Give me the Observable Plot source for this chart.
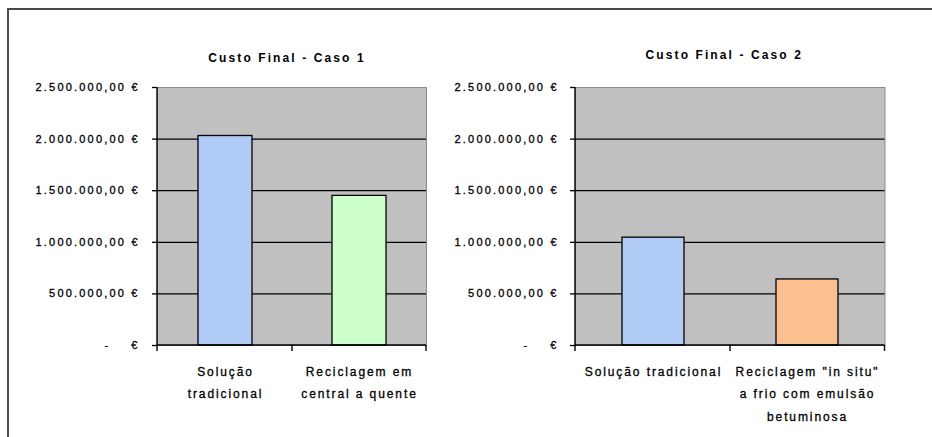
<!DOCTYPE html>
<html>
<head>
<meta charset="utf-8">
<script src="https://cdn.jsdelivr.net/npm/d3@7"></script>
<script src="https://cdn.jsdelivr.net/npm/@observablehq/plot@0.6"></script>
<style>
  html, body { margin: 0; padding: 0; background: #fff; width: 932px; height: 437px; overflow: hidden; }
  #moldura { position: absolute; left: 7px; top: 8px; width: 1000px; height: 1000px; border: 2px solid #4a4a4a; box-sizing: border-box; }
  .grafico { position: absolute; top: 0; }
  .grafico svg { overflow: visible; }
  g[aria-label="y-axis tick label"] { letter-spacing: 2.2px; white-space: pre; stroke: #000; stroke-width: 0.3px; }
  g[aria-label="x-axis tick label"] { letter-spacing: 1.9px; stroke: #000; stroke-width: 0.3px; }
  .titulo { letter-spacing: 2.1px; }
</style>
</head>
<body>
<div id="moldura"></div>
<div id="caso1" class="grafico" style="left:0px"></div>
<div id="caso2" class="grafico" style="left:466px"></div>
<script>
// Custo final de cada solução (euros)
const caso1Titulo = "Custo Final - Caso 1";
const caso1Categorias = ["Solução\ntradicional", "Reciclagem em\ncentral a quente"];
const caso1Custos = [2030000, 1450000];

const caso2Titulo = "Custo Final - Caso 2";
const caso2Categorias = ["Solução tradicional", "Reciclagem \"in situ\"\na frio com emulsão\nbetuminosa"];
const caso2Custos = [1045000, 640000];

const yTicks = [0, 500000, 1000000, 1500000, 2000000, 2500000];

const caso1Cores = ["#afcbf6", "#ccffcc"];
const caso2Cores = ["#afcbf6", "#fac08f"];

// Formato monetário português: 2.500.000,00 €
const euro = d3.formatLocale({decimal: ",", thousands: ".", grouping: [3], currency: ["", " €"]}).format("$,.2f");
const formatoEuro = v => v === 0 ? "-    €" : euro(v);

// Eixos ao estilo de folha de cálculo: linha esquerda, linha de base e marcas nos limites das categorias
function limitesCategorias(index, scales, values, dims) {
  const {x} = scales;
  const {width, height, marginLeft, marginRight, marginTop, marginBottom} = dims;
  const x0 = marginLeft, x1 = width - marginRight, y0 = marginTop, y1 = height - marginBottom;
  const dominio = x.domain();
  const bw = x.bandwidth();
  const cortes = [x0, ...d3.pairs(dominio).map(([a, b]) => (x(a) + bw + x(b)) / 2), x1];
  const g = d3.create("svg:g").attr("stroke", "#000").attr("stroke-width", 1.4).attr("fill", "none");
  g.append("line").attr("x1", x0).attr("x2", x0).attr("y1", y0).attr("y2", y1 + 0.5);
  g.append("line").attr("x1", x0).attr("x2", x1).attr("y1", y1).attr("y2", y1);
  g.selectAll("line.marca").data(cortes).join("line")
    .attr("class", "marca")
    .attr("x1", d => d).attr("x2", d => d)
    .attr("y1", y1).attr("y2", y1 + 6);
  return g.node();
}

function grafico({titulo, categorias, custos, cores, marginLeft, marginRight, tickPadding, dxTitulo, dyTitulo}) {
  const dados = categorias.map((c, i) => ({categoria: c, custo: custos[i], cor: cores[i]}));
  const linhasGrelha = yTicks.filter(v => v > 0 && v < yTicks[yTicks.length - 1]);
  const svg = Plot.plot({
    width: 466,
    height: 437,
    marginLeft,
    marginRight,
    marginTop: 87,
    marginBottom: 92,
    style: {fontFamily: "'Liberation Sans', Arial, sans-serif", fontSize: "11px", color: "#000", background: "transparent", overflow: "visible"},
    x: {domain: categorias, paddingInner: 0.6, paddingOuter: 0.3, align: 0.5, label: null},
    y: {domain: [0, yTicks[yTicks.length - 1]], label: null},
    color: {type: "identity"},
    marks: [
      Plot.frame({fill: "#c0c0c0", stroke: "#8c8c8c"}),
      Plot.ruleY(linhasGrelha, {stroke: "#000", strokeWidth: 1.2}),
      Plot.barY(dados, {x: "categoria", y: "custo", fill: "cor", stroke: "#000", strokeWidth: 1.3}),
      limitesCategorias,
      Plot.axisY({ticks: yTicks, tickFormat: formatoEuro, tickSize: 5, tickPadding, strokeWidth: 1.3, label: null}),
      Plot.axisX({tickSize: 0, tickPadding: 14, fontSize: 12, lineHeight: 1.9, label: null}),
      Plot.text([titulo], {frameAnchor: "top", dx: dxTitulo, dy: dyTitulo, fontWeight: "bold", fontSize: 12, lineAnchor: "middle"})
    ]
  });
  d3.select(svg).selectAll("text")
    .filter(function() { return this.textContent === titulo; })
    .classed("titulo", true);
  return svg;
}

document.getElementById("caso1").append(grafico({
  titulo: caso1Titulo, categorias: caso1Categorias, custos: caso1Custos, cores: caso1Cores,
  marginLeft: 157, marginRight: 40, tickPadding: 12.8, dxTitulo: -5, dyTitulo: -29
}));
document.getElementById("caso2").append(grafico({
  titulo: caso2Titulo, categorias: caso2Categorias, custos: caso2Custos, cores: caso2Cores,
  marginLeft: 109, marginRight: 47.5, tickPadding: 11.8, dxTitulo: -6, dyTitulo: -32
}));
</script>
</body>
</html>
